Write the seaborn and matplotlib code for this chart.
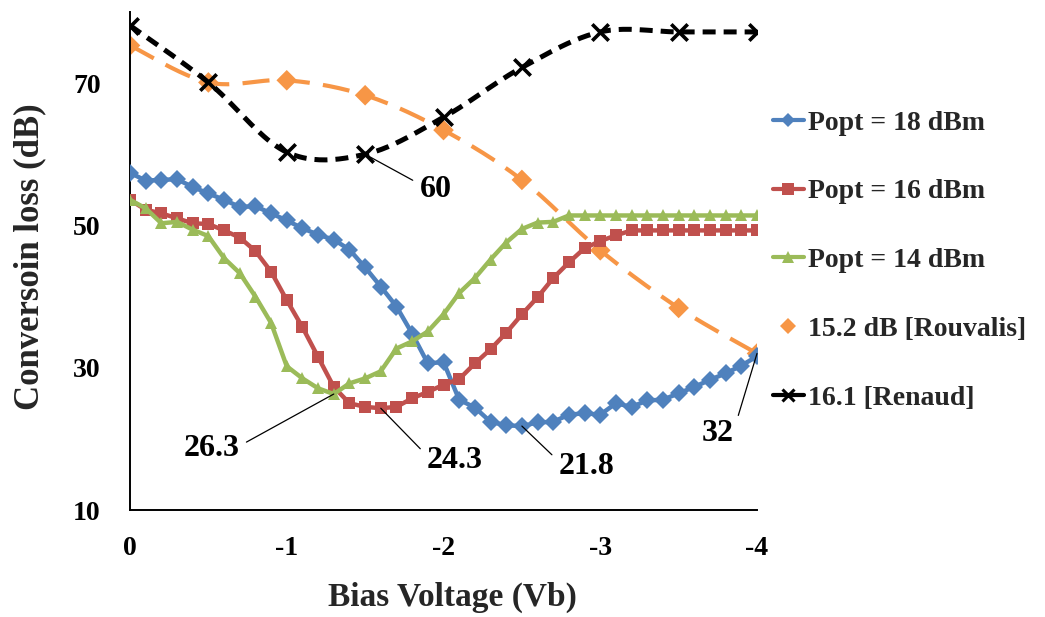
import numpy as np
import pandas as pd
import matplotlib
matplotlib.use("Agg")
import matplotlib.pyplot as plt
import seaborn as sns
from matplotlib.lines import Line2D

# ---- data -------------------------------------------------------------
bias_v = [round(-0.1 * i, 1) for i in range(41)]

loss_18dbm = [57.4, 56.3, 56.4, 56.5, 55.4, 54.5, 53.6, 52.6, 52.7, 51.7,
              50.7, 49.6, 48.7, 48.0, 46.6, 44.1, 41.4, 38.6, 34.8, 30.6,
              30.8, 25.5, 24.4, 22.4, 21.9, 21.8, 22.3, 22.4, 23.4, 23.6,
              23.4, 25.0, 24.5, 25.4, 25.5, 26.4, 27.3, 28.3, 29.2, 30.3,
              31.6]
loss_16dbm = [53.6, 52.2, 51.7, 51.0, 50.3, 50.2, 49.3, 48.3, 46.4, 43.5,
              39.5, 35.7, 31.5, 27.3, 25.0, 24.5, 24.3, 24.5, 25.7, 26.6,
              27.6, 28.4, 30.6, 32.6, 34.9, 37.5, 39.9, 42.6, 44.8, 46.8,
              47.8, 48.6, 49.3, 49.3, 49.3, 49.3, 49.3, 49.3, 49.3, 49.3,
              49.3]
loss_14dbm = [53.6, 52.4, 50.3, 50.5, 49.4, 48.5, 45.4, 43.3, 40.0, 36.3,
              30.2, 28.5, 27.1, 26.3, 27.8, 28.5, 29.5, 32.7, 33.7, 35.1,
              37.5, 40.5, 42.6, 45.2, 47.6, 49.5, 50.4, 50.5, 51.4, 51.4,
              51.4, 51.4, 51.4, 51.4, 51.4, 51.4, 51.4, 51.4, 51.4, 51.4,
              51.4]

ref_v = [0.0, -0.5, -1.0, -1.5, -2.0, -2.5, -3.0, -3.5, -4.0]
rouvalis = [75.3, 70.1, 70.4, 68.3, 63.4, 56.4, 46.5, 38.4, 32.0]
renaud = [78.1, 70.1, 60.3, 60.0, 65.2, 72.2, 77.2, 77.2, 77.2]

series_names = ["Popt = 18 dBm", "Popt = 16 dBm", "Popt = 14 dBm"]
ref_names = ["15.2 dB [Rouvalis]", "16.1 [Renaud]"]

x_ticks = [0, -1, -2, -3, -4]
x_ticklabels = ["0", "-1", "-2", "-3", "-4"]
y_ticks = [10, 30, 50, 70]

# ---- styling ----------------------------------------------------------
sns.set_theme(style="white")
plt.rcParams["font.family"] = ["Liberation Serif", "DejaVu Serif"]
plt.rcParams["font.weight"] = "bold"
plt.rcParams["axes.unicode_minus"] = False

BLUE, RED, GREEN, ORANGE = "#4F81BD", "#C0504D", "#9BBB59", "#F79646"


def smooth(xs, ys, n=24):
    """Catmull-Rom curve through the points (spreadsheet-style smoothed line)."""
    xs = np.asarray(xs, float)
    ys = np.asarray(ys, float)
    px = np.concatenate([[xs[0]], xs, [xs[-1]]])
    py = np.concatenate([[ys[0]], ys, [ys[-1]]])
    outx, outy = [], []
    t = np.linspace(0, 1, n, endpoint=False)
    for i in range(1, len(px) - 2):
        p0x, p1x, p2x, p3x = px[i - 1:i + 3]
        p0y, p1y, p2y, p3y = py[i - 1:i + 3]
        c1x, c1y = p1x + (p2x - p0x) / 6, p1y + (p2y - p0y) / 6
        c2x, c2y = p2x - (p3x - p1x) / 6, p2y - (p3y - p1y) / 6
        bx = ((1 - t) ** 3 * p1x + 3 * (1 - t) ** 2 * t * c1x
              + 3 * (1 - t) * t ** 2 * c2x + t ** 3 * p2x)
        by = ((1 - t) ** 3 * p1y + 3 * (1 - t) ** 2 * t * c1y
              + 3 * (1 - t) * t ** 2 * c2y + t ** 3 * p2y)
        outx.extend(bx)
        outy.extend(by)
    outx.append(xs[-1])
    outy.append(ys[-1])
    return np.array(outx), np.array(outy)


fig = plt.figure(figsize=(10.45, 6.17), dpi=100)
ax = fig.add_axes([130 / 1045, 1 - 510 / 617, 627 / 1045, 498 / 617])

# measured curves
df = pd.DataFrame({
    "bias": bias_v * 3,
    "loss": loss_18dbm + loss_16dbm + loss_14dbm,
    "series": [series_names[0]] * 41 + [series_names[1]] * 41 + [series_names[2]] * 41,
})
sns.lineplot(data=df, x="bias", y="loss", hue="series", style="series",
             palette=[BLUE, RED, GREEN], markers=["D", "s", "^"], dashes=False,
             markersize=9, markeredgewidth=0, linewidth=3.2, sort=False,
             legend=False, ax=ax, zorder=3)

# reference curves (smoothed)
sx, sy = smooth(ref_v, rouvalis)
ax.plot(sx, sy, color=ORANGE, lw=3, dashes=(6.5, 3.2), zorder=2)
sns.scatterplot(x=ref_v, y=rouvalis, marker="D", s=110, color=ORANGE,
                edgecolor="none", ax=ax, zorder=2)
sx, sy = smooth(ref_v, renaud)
ax.plot(sx, sy, color="black", lw=3.6, dashes=(2.6, 1.6), zorder=4)
sns.scatterplot(x=ref_v, y=renaud, marker="x", s=140, color="black",
                linewidth=2.6, ax=ax, zorder=4)

# axes
ax.set_xlim(0, -4)
ax.set_ylim(10, 80)
ax.set_xticks(x_ticks)
ax.set_xticklabels(x_ticklabels)
ax.set_yticks(y_ticks)
for s in ["top", "right"]:
    ax.spines[s].set_visible(False)
for s in ["left", "bottom"]:
    ax.spines[s].set_color("black")
    ax.spines[s].set_linewidth(1.4)
ax.tick_params(axis="both", which="major", direction="out", length=7,
               width=1.4, color="black", labelsize=20, labelcolor="black")
ax.tick_params(axis="y", pad=14)
ax.tick_params(axis="x", pad=12)
for lbl in ax.get_xticklabels() + ax.get_yticklabels():
    lbl.set_fontweight("bold")

ax.set_xlabel("Bias Voltage (Vb)", fontsize=24, fontweight="bold")
ax.xaxis.set_label_coords(0.514, -0.145)
ax.xaxis.label.set_va("top")
ax.set_ylabel("Conversoin loss (dB)", fontsize=25, fontweight="bold")
ax.yaxis.set_label_coords(-0.133, 0.508)

# value call-outs with leader lines
callouts = [
    ("60", (-1.5, 60.0), (-1.95, 55.0), (0.0, 0.7)),
    ("26.3", (-1.3, 26.3), (-0.52, 18.6), (1.0, 0.6)),
    ("24.3", (-1.6, 24.3), (-2.07, 16.9), (0.0, 0.7)),
    ("21.8", (-2.5, 21.8), (-2.91, 16.1), (0.0, 0.7)),
    ("32", (-4.0, 32.0), (-3.75, 20.8), (1.0, 0.6)),
]
for text, xy, xytext, rel in callouts:
    ax.annotate(text, xy=xy, xytext=xytext, fontsize=23, fontweight="bold",
                ha="center", va="center", color="black",
                arrowprops=dict(arrowstyle="-", color="black", lw=0.9,
                                shrinkA=3, shrinkB=0, relpos=rel),
                zorder=6, annotation_clip=False)

# legend
handles = [
    Line2D([], [], color=BLUE, lw=3, marker="D", markersize=7, mew=0),
    Line2D([], [], color=RED, lw=3, marker="s", markersize=8, mew=0),
    Line2D([], [], color=GREEN, lw=3, marker="^", markersize=8, mew=0),
    Line2D([], [], color=ORANGE, lw=0, marker="D", markersize=8, mew=0),
    Line2D([], [], color="black", lw=3, marker="x", markersize=8, mew=2.2),
]
fig.legend(handles, series_names + ref_names, loc="upper left",
           bbox_to_anchor=(762 / 1045, 1 - 99 / 617), frameon=False,
           prop={"family": "Liberation Serif", "weight": "bold", "size": 20},
           handlelength=1.1, handletextpad=0.15, labelspacing=1.56,
           borderaxespad=0)

fig.savefig("out.png", dpi=100)
